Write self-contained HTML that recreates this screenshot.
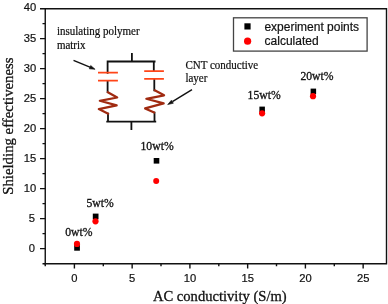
<!DOCTYPE html>
<html><head><meta charset="utf-8">
<style>
html,body{margin:0;padding:0;background:#fff;width:388px;height:304px;overflow:hidden}
svg{display:block;will-change:transform}
.sans{font-family:"Liberation Sans",sans-serif;stroke:#111;stroke-width:0.2px}
.serif{font-family:"Liberation Serif",serif;stroke:#111;stroke-width:0.3px}
.ann{stroke-width:0.2px}
</style></head>
<body>
<svg width="388" height="304" viewBox="0 0 388 304">
<rect x="0" y="0" width="388" height="304" fill="#fff"/>
<!-- frame -->
<g fill="none" stroke="#111" stroke-width="1.4">
<path d="M45.25 8.7 H386.5 V263.7 H45.25 Z"/>
<!-- y major ticks -->
<path d="M40 8.7H45.25M40 38.6H45.25M40 68.6H45.25M40 98.6H45.25M40 128.6H45.25M40 158.6H45.25M40 188.6H45.25M40 218.6H45.25M40 248.6H45.25"/>
<!-- y minor ticks -->
<path d="M42.5 23.6H45.25M42.5 53.6H45.25M42.5 83.6H45.25M42.5 113.6H45.25M42.5 143.6H45.25M42.5 173.6H45.25M42.5 203.6H45.25M42.5 233.6H45.25M42.5 263.8H45.25"/>
<!-- x major ticks -->
<path d="M74.4 263.8V268.5M132.15 263.8V268.5M189.9 263.8V268.5M247.65 263.8V268.5M305.4 263.8V268.5M363.15 263.8V268.5"/>
<!-- x minor ticks -->
<path d="M45.25 263.8V266.3M103.3 263.8V266.3M161 263.8V266.3M218.8 263.8V266.3M276.5 263.8V266.3M334.3 263.8V266.3"/>
</g>
<!-- y labels -->
<g class="sans" font-size="11.2" fill="#111" text-anchor="end">
<text x="36.3" y="11.1">40</text>
<text x="36.3" y="41.9">35</text>
<text x="36.3" y="71.9">30</text>
<text x="36.3" y="101.9">25</text>
<text x="36.3" y="131.9">20</text>
<text x="36.3" y="161.9">15</text>
<text x="36.3" y="191.9">10</text>
<text x="35.1" y="221.9">5</text>
<text x="35.1" y="251.9">0</text>
</g>
<!-- x labels -->
<g class="sans" font-size="11.2" fill="#111" text-anchor="middle">
<text x="74.4" y="281.5">0</text>
<text x="132.15" y="281.5">5</text>
<text x="189.9" y="281.5">10</text>
<text x="247.65" y="281.5">15</text>
<text x="305.4" y="281.5">20</text>
<text x="363.15" y="281.5">25</text>
</g>
<!-- axis titles -->
<text class="serif" x="152.9" y="301" font-size="14.6" fill="#111">AC conductivity (S/m)</text>
<text class="serif" font-size="14.8" fill="#111" transform="translate(12.5 194.8) rotate(-90)">Shielding effectiveness</text>

<!-- legend -->
<rect x="233.5" y="17.8" width="133.6" height="33.3" fill="none" stroke="#444" stroke-width="1.3"/>
<rect x="244.4" y="23.3" width="6.2" height="6.2" fill="#000"/>
<circle cx="247.6" cy="41.2" r="3.6" fill="#f00"/>
<g class="sans" font-size="12" fill="#111">
<text x="264.4" y="30.7">experiment points</text>
<text x="264.6" y="44.6">calculated</text>
</g>

<!-- data: squares -->
<g fill="#000">
<rect x="74.2" y="245" width="5.7" height="5.7"/>
<rect x="92.8" y="213.6" width="5.7" height="5.7"/>
<rect x="153.7" y="158" width="5.6" height="5.6"/>
<rect x="259.4" y="106.6" width="5.5" height="5.5"/>
<rect x="310.6" y="88.6" width="5.5" height="5.5"/>
</g>
<g fill="#f00">
<circle cx="77" cy="243.9" r="3.1"/>
<circle cx="95.5" cy="221.3" r="3.1"/>
<circle cx="156.2" cy="181" r="3"/>
<circle cx="262.1" cy="113.3" r="3.1"/>
<circle cx="313" cy="96.2" r="3.1"/>
</g>
<!-- data labels -->
<g class="serif" font-size="11.7" fill="#111">
<text x="65.2" y="235.6">0wt%</text>
<text x="86.4" y="207.4">5wt%</text>
<text x="140.5" y="150.4">10wt%</text>
<text x="247.6" y="98.9">15wt%</text>
<text x="300.4" y="79.7">20wt%</text>
</g>

<!-- inset circuit -->
<g fill="none" stroke="#111" stroke-width="1.8" stroke-linecap="square">
<path d="M107.6 61.5H154.6M131.9 53.9V61.5M107.6 61.5V72.9M107.6 80.8V92M153.8 61.5V71.1M154.3 78.9V90.3"/>
<path d="M108 113.7V121.6M154.5 112.6V121.6M107.2 121.6H155.3M131.4 121.6V129.2"/>
</g>
<g fill="none" stroke="#ff4518" stroke-width="1.8">
<path d="M98 72.7H117.9M98 80.7H117.9M144.2 71.1H163.9M144.2 78.9H163.9"/>
</g>
<g fill="none" stroke="#a02a10" stroke-width="2.2" stroke-linejoin="round" stroke-linecap="round">
<path d="M107.8 92.2L117.2 97.5L99.8 100.8L116.7 105.4L98.8 109.1L108.2 113.7"/>
<path d="M154.7 90.3L164.1 95.3L146.3 98.8L163.7 103.4L145.1 108.4L154.2 112.6"/>
</g>
<!-- annotations -->
<g class="serif ann" font-size="11" fill="#111">
<text transform="translate(56.9 35.4) scale(1 1.1)">insulating polymer</text>
<text transform="translate(56.9 48.6) scale(1 1.1)">matrix</text>
<text transform="translate(185.4 68.6) scale(1 1.1)">CNT conductive</text>
<text transform="translate(185.4 81.7) scale(1 1.1)">layer</text>
</g>
<!-- arrows -->
<g stroke="#111" stroke-width="1.4" fill="#111">
<path d="M73.5 60.3L90.5 67.4" fill="none"/>
<path d="M95.1 69.3L89.33 68.84L90.71 65.52Z" stroke-width="0.6"/>
<path d="M192 89.6L172.4 101.7" fill="none"/>
<path d="M167.7 104.6L171.43 100.18L173.33 103.24Z" stroke-width="0.6"/>
</g>
</svg>
</body></html>
